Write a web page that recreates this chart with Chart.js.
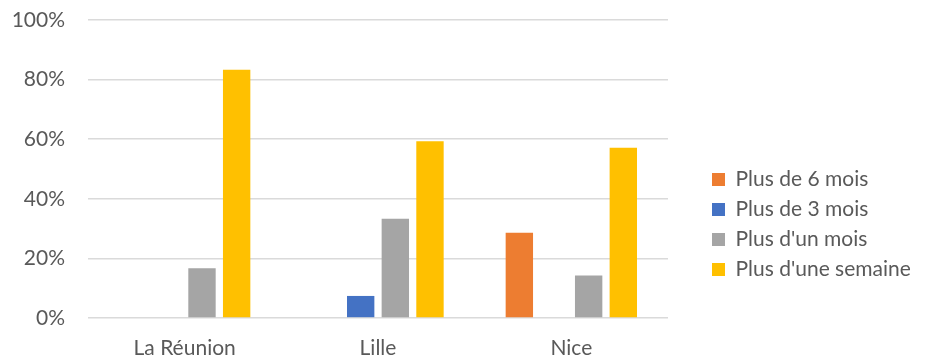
<!DOCTYPE html>
<html lang="fr">
<head>
<meta charset="UTF-8">
<title>Durée par ville</title>
<script src="https://cdn.jsdelivr.net/npm/chart.js"></script>
<style>
  html, body { margin: 0; padding: 0; background: #fff; }
  #wrap { width: 936px; height: 362px; }
</style>
</head>
<body>
<div id="wrap"><canvas id="dureeChart"></canvas></div>
<script>
  // villes et séries (en %)
  var villes = ["La Réunion", "Lille", "Nice"];
  var plus6Mois = [0, 0, 28.6];
  var plus3Mois = [0, 7.4, 0];
  var plusUnMois = [16.7, 33.3, 14.3];
  var plusUneSemaine = [83.3, 59.3, 57.1];
  var ticksY = [0, 20, 40, 60, 80, 100];

  var texte = "#595959";
  Chart.defaults.font.family = "Lato, 'Liberation Sans', sans-serif";
  Chart.defaults.font.size = 21;
  Chart.defaults.color = texte;

  // place la légende à droite du graphique, comme dans Excel
  var legendePlacement = {
    id: "legendePlacement",
    beforeInit: function (chart) {
      var legend = chart.legend;
      var fit = legend.fit;
      legend.fit = function () {
        fit.call(this);
        this.width = chart.width - 668;
      };
    },
    afterLayout: function (chart) {
      chart.legend.left = 703;
      chart.legend.top = 160;
    }
  };

  var ctx = document.getElementById("dureeChart").getContext("2d");
  var chart = new Chart(ctx, {
    type: "bar",
    data: {
      labels: villes,
      datasets: [
        { label: "Plus de 6 mois", data: plus6Mois, backgroundColor: "#ED7D31" },
        { label: "Plus de 3 mois", data: plus3Mois, backgroundColor: "#4472C4" },
        { label: "Plus d'un mois", data: plusUnMois, backgroundColor: "#A5A5A5" },
        { label: "Plus d'une semaine", data: plusUneSemaine, backgroundColor: "#FFC000" }
      ]
    },
    options: {
      responsive: true,
      maintainAspectRatio: false,
      animation: false,
      categoryPercentage: 0.717,
      barPercentage: 0.79,
      layout: { padding: { top: 20, right: 0, bottom: 0, left: 0 } },
      plugins: {
        tooltip: { enabled: false },
        legend: {
          position: "right",
          align: "start",
          labels: {
            boxWidth: 13,
            boxHeight: 13,
            padding: 9,
            color: texte
          }
        }
      },
      scales: {
        x: {
          grid: { display: false },
          border: { display: false },
          ticks: { padding: 10 },
          afterFit: function (scale) { scale.height = 44; }
        },
        y: {
          min: 0,
          max: 100,
          border: { display: false },
          grid: { color: "#DADADA", lineWidth: 1.6, drawTicks: false },
          afterBuildTicks: function (scale) {
            scale.ticks = ticksY.map(function (v) { return { value: v }; });
          },
          ticks: {
            padding: 23,
            callback: function (v) { return v + "%"; }
          },
          afterFit: function (scale) {
            scale.width = 88;
            // le padding des graduations ne doit pas décaler le haut du graphique
            scale.paddingTop = 0;
            scale.paddingBottom = 0;
          }
        }
      }
    },
    plugins: [legendePlacement]
  });
</script>
</body>
</html>
